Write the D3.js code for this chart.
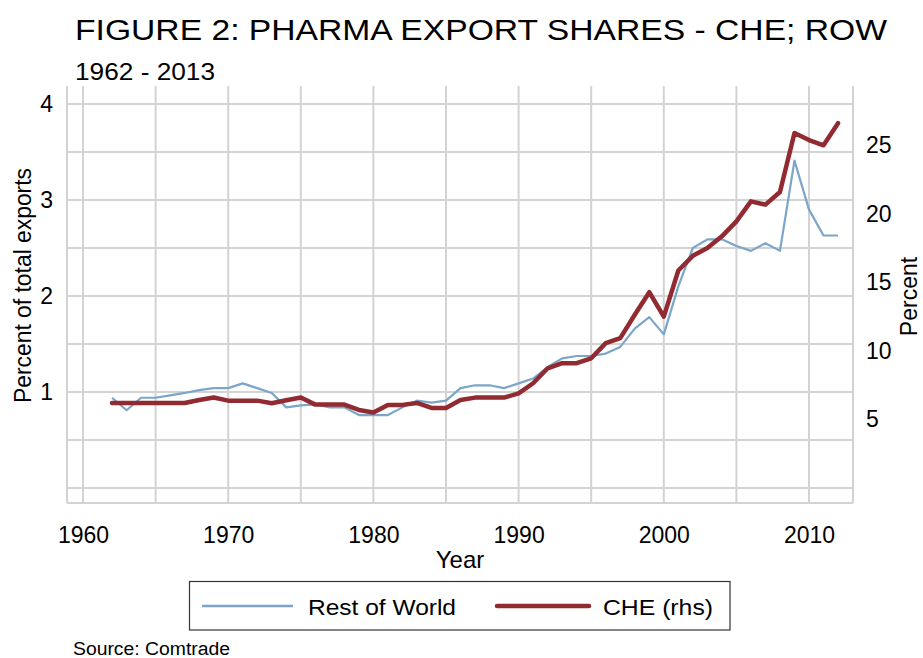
<!DOCTYPE html>
<html>
<head>
<meta charset="utf-8">
<script src="https://cdn.jsdelivr.net/npm/d3@7"></script>
<style>
  html, body { margin: 0; padding: 0; background: #fff; }
  text { font-family: "Liberation Sans", Arial, Helvetica, sans-serif; fill: #000; }
</style>
</head>
<body>
<svg id="chart" width="923" height="658"></svg>
<script>
// ---- data ----
const years = d3.range(1962, 2013);
const restOfWorld = [
  0.94, 0.81, 0.94, 0.94, 0.965, 0.99, 1.02, 1.04, 1.04, 1.09,
  1.04, 0.99, 0.84, 0.86, 0.87, 0.84, 0.84, 0.76, 0.76, 0.76,
  0.84, 0.91, 0.89, 0.91, 1.04, 1.07, 1.07, 1.04, 1.09, 1.14,
  1.26, 1.35, 1.375, 1.375, 1.40, 1.47, 1.66, 1.78, 1.60, 2.10,
  2.50, 2.59, 2.59, 2.52, 2.47, 2.55, 2.47, 3.41, 2.90, 2.63,
  2.63
];
const che = [
  6.2, 6.2, 6.2, 6.2, 6.2, 6.2, 6.42, 6.6, 6.37, 6.37,
  6.37, 6.18, 6.4, 6.6, 6.08, 6.08, 6.08, 5.69, 5.5, 6.06,
  6.06, 6.2, 5.84, 5.84, 6.42, 6.59, 6.59, 6.59, 6.9, 7.64,
  8.73, 9.1, 9.1, 9.46, 10.56, 10.93, 12.63, 14.28, 12.5, 15.86,
  16.93, 17.5, 18.35, 19.44, 20.9, 20.66, 21.58, 25.89, 25.37, 24.99,
  26.6
];
const xTickLabels = [1960, 1970, 1980, 1990, 2000, 2010];
const xGridValues = [1960, 1965, 1970, 1975, 1980, 1985, 1990, 1995, 2000, 2005, 2010];
const yLeftTicks = [1, 2, 3, 4];
const yLeftGrid = [0, 0.5, 1, 1.5, 2, 2.5, 3, 3.5, 4];
const yRightTicks = [5, 10, 15, 20, 25];

const titleText = "FIGURE 2: PHARMA EXPORT SHARES - CHE; ROW";
const subtitleText = "1962 - 2013";
const seriesNames = ["Rest of World", "CHE (rhs)"];
const colors = { row: "#7ba5c9", che: "#922a31", grid: "#d3d3d3" };

// ---- layout ----
const plot = { left: 67, right: 853, top: 86, bottom: 503 };
const svg = d3.select("#chart");

const x = d3.scaleLinear().domain([1960, 2010]).range([83, 809]);
const yL = d3.scaleLinear().domain([0, 4]).range([488, 104]);
const yR = d3.scaleLinear().domain([0, 28]).range([488, 104]);

// grid
const grid = svg.append("g");
grid.selectAll("line.h").data(yLeftGrid).join("line")
  .attr("x1", plot.left).attr("x2", plot.right)
  .attr("y1", d => yL(d)).attr("y2", d => yL(d))
  .attr("stroke", colors.grid).attr("stroke-width", 2);
grid.selectAll("line.v").data(xGridValues).join("line")
  .attr("x1", d => x(d)).attr("x2", d => x(d))
  .attr("y1", plot.top).attr("y2", plot.bottom)
  .attr("stroke", colors.grid).attr("stroke-width", 2);
// axis lines (light)
grid.append("line").attr("x1", plot.left).attr("x2", plot.left).attr("y1", plot.top).attr("y2", plot.bottom)
  .attr("stroke", colors.grid).attr("stroke-width", 2);
grid.append("line").attr("x1", plot.right).attr("x2", plot.right).attr("y1", plot.top).attr("y2", plot.bottom)
  .attr("stroke", colors.grid).attr("stroke-width", 2);
grid.append("line").attr("x1", plot.left).attr("x2", plot.right).attr("y1", plot.bottom).attr("y2", plot.bottom)
  .attr("stroke", colors.grid).attr("stroke-width", 2);

// axes via d3 axis generators (text only)
const xAxis = svg.append("g").attr("transform", `translate(0,${plot.bottom})`)
  .call(d3.axisBottom(x).tickValues(xTickLabels).tickFormat(d3.format("d")).tickSize(0).tickPadding(24));
xAxis.select(".domain").remove();
xAxis.selectAll("text").attr("font-size", 23).attr("font-family", "Liberation Sans, Arial, sans-serif").attr("fill", "#000");

const yAxisL = svg.append("g").attr("transform", `translate(${plot.left},0)`)
  .call(d3.axisLeft(yL).tickValues(yLeftTicks).tickFormat(d3.format("d")).tickSize(0).tickPadding(14));
yAxisL.select(".domain").remove();
yAxisL.selectAll("text").attr("font-size", 23).attr("font-family", "Liberation Sans, Arial, sans-serif").attr("fill", "#000");

const yAxisR = svg.append("g").attr("transform", `translate(${plot.right},0)`)
  .call(d3.axisRight(yR).tickValues(yRightTicks).tickFormat(d3.format("d")).tickSize(0).tickPadding(13));
yAxisR.select(".domain").remove();
yAxisR.selectAll("text").attr("font-size", 23).attr("font-family", "Liberation Sans, Arial, sans-serif").attr("fill", "#000");

// lines
const rowData = years.map((yr, i) => [yr, restOfWorld[i]]);
const cheData = years.map((yr, i) => [yr, che[i]]);
svg.append("path").datum(rowData)
  .attr("fill", "none").attr("stroke", colors.row).attr("stroke-width", 2.2)
  .attr("stroke-linejoin", "round")
  .attr("d", d3.line().x(d => x(d[0])).y(d => yL(d[1])));
svg.append("path").datum(cheData)
  .attr("fill", "none").attr("stroke", colors.che).attr("stroke-width", 4.5)
  .attr("stroke-linejoin", "round").attr("stroke-linecap", "round")
  .attr("d", d3.line().x(d => x(d[0])).y(d => yR(d[1])));

// titles
svg.append("text").attr("x", 75).attr("y", 39.5).attr("font-size", 30)
  .attr("textLength", 812).attr("lengthAdjust", "spacingAndGlyphs").text(titleText);
svg.append("text").attr("x", 75).attr("y", 79.5).attr("font-size", 23)
  .attr("textLength", 140).attr("lengthAdjust", "spacingAndGlyphs").text(subtitleText);

// axis titles
svg.append("text").attr("transform", "translate(31,285.5) rotate(-90)")
  .attr("text-anchor", "middle").attr("font-size", 23)
  .attr("textLength", 235).attr("lengthAdjust", "spacingAndGlyphs").text("Percent of total exports");
svg.append("text").attr("transform", "translate(917,296.5) rotate(-90)")
  .attr("text-anchor", "middle").attr("font-size", 23).text("Percent");
svg.append("text").attr("x", 460).attr("y", 568).attr("text-anchor", "middle")
  .attr("font-size", 24).text("Year");

// legend
const lg = svg.append("g");
lg.append("rect").attr("x", 189.5).attr("y", 581.5).attr("width", 540.5).attr("height", 48.5)
  .attr("fill", "#fff").attr("stroke", "#333").attr("stroke-width", 1.2);
lg.append("line").attr("x1", 202).attr("x2", 293).attr("y1", 606).attr("y2", 606)
  .attr("stroke", colors.row).attr("stroke-width", 2.5);
lg.append("text").attr("x", 308).attr("y", 615).attr("font-size", 22)
  .attr("textLength", 148).attr("lengthAdjust", "spacingAndGlyphs").text(seriesNames[0]);
lg.append("line").attr("x1", 497).attr("x2", 589).attr("y1", 606).attr("y2", 606)
  .attr("stroke", colors.che).attr("stroke-width", 4.5).attr("stroke-linecap", "round");
lg.append("text").attr("x", 603).attr("y", 615).attr("font-size", 22)
  .attr("textLength", 110).attr("lengthAdjust", "spacingAndGlyphs").text(seriesNames[1]);

// source
svg.append("text").attr("x", 73).attr("y", 655).attr("font-size", 18)
  .attr("textLength", 157).attr("lengthAdjust", "spacingAndGlyphs").text("Source: Comtrade");
</script>
</body>
</html>
